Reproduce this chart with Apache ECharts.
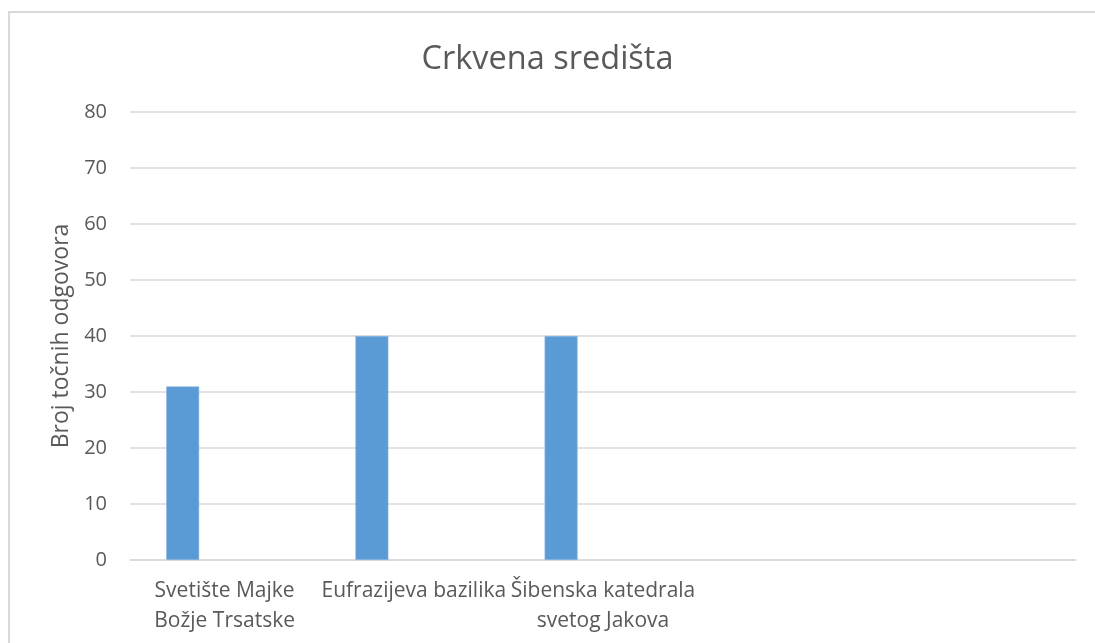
<!DOCTYPE html>
<html>
<head>
<meta charset="utf-8">
<script src="https://cdn.jsdelivr.net/npm/echarts@6/dist/echarts.min.js"></script>
<style>
  html, body { margin: 0; padding: 0; background: #fff; }
  #chart { width: 1095px; height: 643px; }
</style>
</head>
<body>
<div id="chart"></div>
<script>
// chart data
const categories = [
  "Svetište Majke\nBožje Trsatske",
  "Eufrazijeva bazilika",
  "Šibenska katedrala\nsvetog Jakova",
  "",
  ""
];
const correctAnswers = [31, 40, 40, null, null];
const seriesTwo = [null, null, null, null, null];
const seriesThree = [null, null, null, null, null];
const yTicks = { min: 0, max: 80, step: 10 };

const font = "'Open Sans', 'Noto Sans', sans-serif";
const grey = "#595959";

const dom = echarts.init(document.getElementById("chart"));
const option = {
  animation: false,
  backgroundColor: "#fff",
  title: {
    text: "Crkvena središta",
    left: "center",
    top: 38,
    textStyle: { fontFamily: font, fontSize: 32.5, fontWeight: "normal", color: grey }
  },
  graphic: [
    {
      type: "rect",
      shape: { x: 9, y: 12, width: 1200, height: 1000 },
      style: { fill: "none", stroke: "#d9d9d9", lineWidth: 2 },
      silent: true
    }
  ],
  grid: { left: 130, right: 19, top: 112, bottom: 83 },
  xAxis: {
    type: "category",
    data: categories,
    axisTick: { show: false },
    axisLine: { lineStyle: { color: "#d9d9d9", width: 1.5 } },
    axisLabel: {
      interval: 0,
      margin: 16,
      fontFamily: font,
      fontSize: 21,
      lineHeight: 30,
      color: grey
    }
  },
  yAxis: {
    type: "value",
    min: yTicks.min,
    max: yTicks.max,
    interval: yTicks.step,
    name: "Broj točnih odgovora",
    nameLocation: "middle",
    nameGap: 57,
    nameTextStyle: { fontFamily: font, fontSize: 23, color: grey },
    axisLine: { show: false },
    axisTick: { show: false },
    axisLabel: { margin: 23, fontFamily: font, fontSize: 20, color: grey },
    splitLine: { lineStyle: { color: "#d9d9d9", width: 1.5 } }
  },
  series: [
    {
      name: "Broj točnih odgovora",
      type: "bar",
      data: correctAnswers,
      barWidth: 33,
      barGap: "27%",
      itemStyle: { color: "#5b9bd5", borderColor: "#8fb9e3", borderWidth: 0.6 }
    },
    { name: "Serija 2", type: "bar", data: seriesTwo, barWidth: 33 },
    { name: "Serija 3", type: "bar", data: seriesThree, barWidth: 33 }
  ]
};
dom.setOption(option);
</script>
</body>
</html>
